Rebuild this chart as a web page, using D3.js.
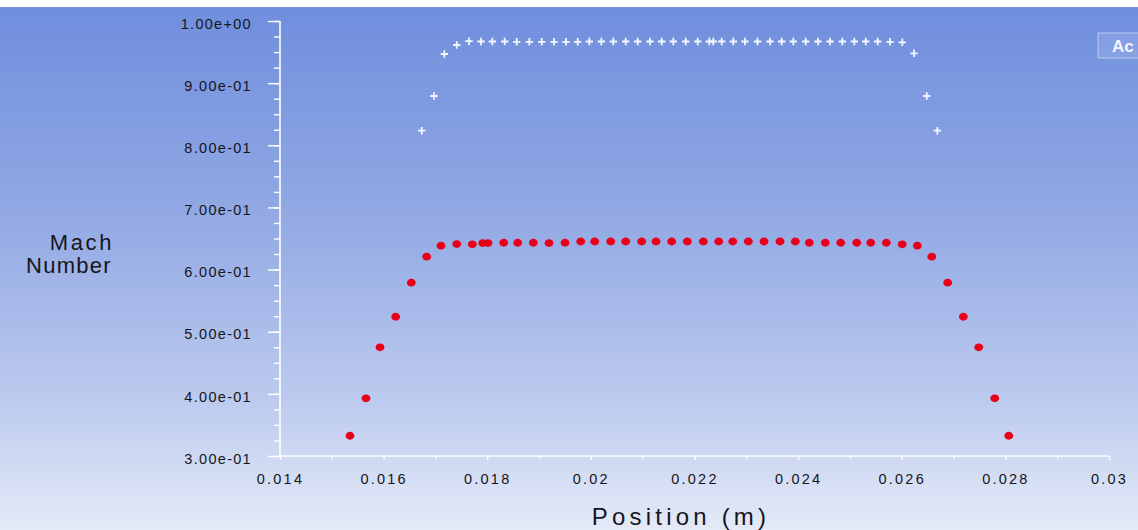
<!DOCTYPE html>
<html>
<head>
<meta charset="utf-8">
<script src="https://cdn.jsdelivr.net/npm/d3@7"></script>
<style>
  html, body { margin: 0; padding: 0; background: #fff; }
  svg { display: block; font-family: Arial, "Liberation Sans", sans-serif; }
</style>
</head>
<body>
<div id="chart"></div>
<script>
'use strict';

// red dots (lower series)
var redX = [0.015351, 0.015660, 0.015930, 0.016233, 0.016534, 0.016831, 0.017107, 0.017411,
  0.017712, 0.017912, 0.018015, 0.018318, 0.018588, 0.018889, 0.019192, 0.019501, 0.019804,
  0.020074, 0.020383, 0.020672, 0.020981, 0.021257, 0.021560, 0.021861, 0.022170, 0.022467,
  0.022738, 0.023039, 0.023342, 0.023651, 0.023946, 0.024216, 0.024525, 0.024822, 0.025131,
  0.025401, 0.025702, 0.026009, 0.026301, 0.026579, 0.026887, 0.027189, 0.027486, 0.027795,
  0.028065];
var redY = [0.3326, 0.3928, 0.4749, 0.5241, 0.5789, 0.6207, 0.6384, 0.6411,
  0.6406, 0.6427, 0.6427, 0.6432, 0.6432, 0.6432, 0.6427, 0.6432, 0.6452,
  0.6452, 0.6452, 0.6452, 0.6452, 0.6452, 0.6452, 0.6452, 0.6452, 0.6452,
  0.6452, 0.6452, 0.6452, 0.6452, 0.6452, 0.6432, 0.6432, 0.6432, 0.6432,
  0.6432, 0.6432, 0.6406, 0.6384, 0.6207, 0.5789, 0.5241, 0.4749, 0.3928,
  0.3326];

// white crosses (upper series)
var crossX = [0.016735, 0.016972, 0.017171, 0.017411, 0.017648, 0.017880, 0.018098, 0.018337,
  0.018569, 0.018812, 0.019051, 0.019289, 0.019520, 0.019746, 0.019970, 0.020202, 0.020433,
  0.020672, 0.020904, 0.021141, 0.021367, 0.021591, 0.021831, 0.022062, 0.022286, 0.022363,
  0.022525, 0.022749, 0.022975, 0.023216, 0.023458, 0.023683, 0.023907, 0.024147, 0.024384,
  0.024616, 0.024853, 0.025085, 0.025305, 0.025536, 0.025774, 0.026011, 0.026237, 0.026482,
  0.026687];
var crossY = [0.8235, 0.8793, 0.9469, 0.9614, 0.9675, 0.9670, 0.9670, 0.9670,
  0.9665, 0.9665, 0.9665, 0.9665, 0.9665, 0.9665, 0.9670, 0.9670, 0.9670,
  0.9670, 0.9670, 0.9670, 0.9670, 0.9670, 0.9670, 0.9670, 0.9670, 0.9670,
  0.9670, 0.9670, 0.9670, 0.9670, 0.9670, 0.9670, 0.9670, 0.9670, 0.9670,
  0.9670, 0.9670, 0.9670, 0.9670, 0.9670, 0.9665, 0.9657, 0.9480, 0.8793,
  0.8235];

var xTicks = [0.014, 0.016, 0.018, 0.020, 0.022, 0.024, 0.026, 0.028, 0.030];
var xTickLabels = ['0.014', '0.016', '0.018', '0.02', '0.022', '0.024', '0.026', '0.028', '0.03'];
var yTicks = [0.3, 0.4, 0.5, 0.6, 0.7, 0.8, 0.9, 1.0];
var yTickLabels = ['3.00e-01', '4.00e-01', '5.00e-01', '6.00e-01', '7.00e-01', '8.00e-01', '9.00e-01', '1.00e+00'];

var width = 1138,
  height = 530;

var svg = d3.select('#chart').append('svg')
  .attr('width', width)
  .attr('height', height);

var grad = svg.append('defs').append('linearGradient')
  .attr('id', 'bg')
  .attr('x1', 0).attr('y1', 0).attr('x2', 0).attr('y2', 1);
grad.append('stop').attr('offset', '0%').attr('stop-color', '#6f8edd');
grad.append('stop').attr('offset', '40%').attr('stop-color', '#92a9e4');
grad.append('stop').attr('offset', '75%').attr('stop-color', '#bccaee');
grad.append('stop').attr('offset', '100%').attr('stop-color', '#e4eaf7');

svg.append('rect')
  .attr('x', 0).attr('y', 7)
  .attr('width', width).attr('height', height - 7)
  .style('fill', 'url(#bg)');

var x = d3.scaleLinear().domain([0.014, 0.03]).range([280, 1109]);
var y = d3.scaleLinear().domain([0.3, 1.0]).range([456, 21]);

// minor ticks
var xMinor = d3.range(0.015, 0.030, 0.002);
var yMinor = d3.range(0.3, 1.0001, 0.025);

var xAxis = svg.append('g')
  .attr('transform', 'translate(0,' + y(0.3) + ')')
  .call(d3.axisBottom(x).tickValues(xTicks).tickSize(4).tickPadding(14)
    .tickFormat(function(d, i) { return xTickLabels[i]; }));

svg.append('g')
  .attr('transform', 'translate(0,' + y(0.3) + ')')
  .call(d3.axisBottom(x).tickValues(xMinor).tickSize(3).tickFormat(''))
  .select('.domain').remove();

var yAxis = svg.append('g')
  .attr('transform', 'translate(' + x(0.014) + ',0)')
  .call(d3.axisLeft(y).tickValues(yTicks).tickSize(12).tickPadding(16)
    .tickFormat(function(d, i) { return yTickLabels[i]; }));

svg.append('g')
  .attr('transform', 'translate(' + x(0.014) + ',0)')
  .call(d3.axisLeft(y).tickValues(yMinor).tickSize(6).tickFormat(''))
  .select('.domain').remove();

xAxis.select('.domain').remove();
yAxis.select('.domain').remove();

svg.append('line')
  .attr('x1', x(0.014)).attr('x2', x(0.03))
  .attr('y1', y(0.3)).attr('y2', y(0.3))
  .style('stroke', '#fff').style('stroke-width', 1.6);
svg.append('line')
  .attr('x1', x(0.014)).attr('x2', x(0.014))
  .attr('y1', y(0.3)).attr('y2', y(1.0))
  .style('stroke', '#fff').style('stroke-width', 1.6);

svg.selectAll('.tick line')
  .style('stroke', '#fff')
  .style('stroke-width', 1.4);

svg.selectAll('.tick text')
  .style('fill', '#15151c')
  .style('font-size', '14.5px')
  .style('font-family', 'Arial, "Liberation Sans", sans-serif');

xAxis.selectAll('.tick text').style('letter-spacing', '2.2px');
yAxis.selectAll('.tick text').style('letter-spacing', '1.3px').attr('dy', '0.5em');

// axis titles
svg.append('text')
  .attr('x', 681).attr('y', 525)
  .attr('text-anchor', 'middle')
  .style('font-size', '24px')
  .style('letter-spacing', '4.2px')
  .style('fill', '#15151c')
  .text('Position (m)');

svg.append('text')
  .attr('x', 114).attr('y', 250)
  .attr('text-anchor', 'end')
  .style('font-size', '22px')
  .style('letter-spacing', '2.6px')
  .style('fill', '#15151c')
  .text('Mach');
svg.append('text')
  .attr('x', 112).attr('y', 273)
  .attr('text-anchor', 'end')
  .style('font-size', '22px')
  .style('letter-spacing', '1.3px')
  .style('fill', '#15151c')
  .text('Number');

// crosses
svg.append('g').selectAll('path')
  .data(crossX)
  .enter().append('path')
    .attr('d', 'M-3.7,0H3.7M0,-3.7V3.7')
    .attr('transform', function(d, i) {
      return 'translate(' + x(d) + ',' + y(crossY[i]) + ')';
    })
    .style('stroke', '#f4f7ff')
    .style('stroke-width', 1.8)
    .style('fill', 'none');

// dots
svg.append('g').selectAll('ellipse')
  .data(redX)
  .enter().append('ellipse')
    .attr('cx', function(d) { return x(d); })
    .attr('cy', function(d, i) { return y(redY[i]); })
    .attr('rx', 4.4)
    .attr('ry', 3.9)
    .style('fill', '#e8001a');

// clipped legend box at the right edge
svg.append('rect')
  .attr('x', 1098).attr('y', 33)
  .attr('width', 50).attr('height', 25)
  .style('fill', 'rgba(255,255,255,0.12)')
  .style('stroke', 'rgba(255,255,255,0.4)')
  .style('stroke-width', 1.2);
svg.append('text')
  .attr('x', 1112).attr('y', 52)
  .style('font-size', '17px')
  .style('font-weight', 'bold')
  .style('fill', '#f2f5ff')
  .text('Ac');
</script>
</body>
</html>
